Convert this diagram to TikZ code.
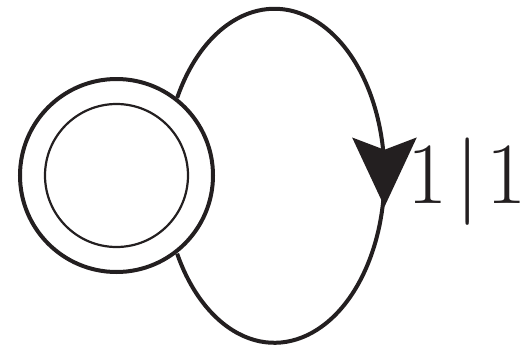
\documentclass[tikz,border=0pt]{standalone}
\usepackage{tikz}
\usetikzlibrary{positioning,arrows.meta,decorations.markings}
\definecolor{ink}{RGB}{35,31,32}

\begin{document}
\begin{tikzpicture}[
  state/.style={circle, draw=ink, line width=0.04cm, inner sep=0pt, minimum size=1.93cm},
  innerring/.style={circle, draw=ink, line width=0.022cm, inner sep=0pt, minimum size=1.43cm},
  selfloop/.style={draw=ink, line width=0.04cm, postaction={decorate},
    decoration={markings, mark=at position 0.5 with {\pgftransformxshift{0.31cm}\arrow{Stealth[length=0.69cm, width=0.64cm, inset=0.12cm]}}}}]
  \useasboundingbox (0,0) rectangle (5.28,-3.49);
  \node[state] (q0) at (1.165,-1.755) {};
  \node[innerring] (q0in) at (q0.center) {};
  \draw[selfloop] (q0.52) arc[start angle=152.2, end angle=-152.2, x radius=1.1cm, y radius=1.67cm];
  \node[anchor=base west, inner sep=0pt, text=ink, font=\fontsize{28.5}{34}\selectfont] (looplabel) at (4.07,-2.03) {$1\mkern1.5mu|\mkern1.5mu1$};
\end{tikzpicture}
\end{document}
